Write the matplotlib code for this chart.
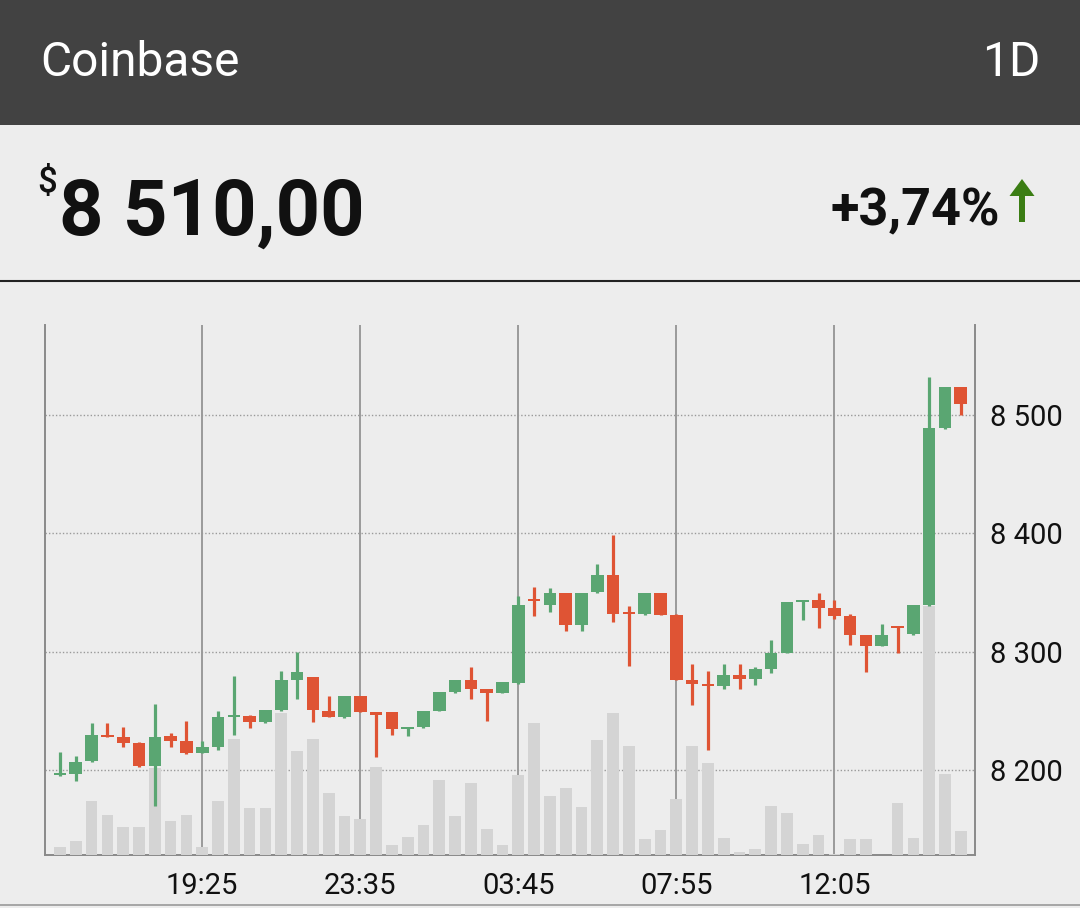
import matplotlib
matplotlib.use('Agg')
from matplotlib import pyplot as plt
from matplotlib.patches import Rectangle, FancyArrow
from matplotlib.lines import Line2D
import numpy as np

plt.rcParams['font.family'] = ['Roboto', 'DejaVu Sans']

# candles, 25 min each, oldest first
opens = [8196, 8197, 8208, 8230, 8228, 8223, 8204, 8229, 8225, 8215,
         8220, 8245, 8246, 8241, 8251, 8276, 8279, 8250, 8245, 8263,
         8249, 8249, 8235, 8237, 8250, 8266, 8276, 8269, 8265, 8274,
         8345, 8340, 8350, 8323, 8351, 8365, 8333, 8332, 8350, 8331,
         8276, 8273, 8271, 8281, 8277, 8286, 8299, 8342, 8344, 8337,
         8330, 8314, 8305, 8322, 8315, 8340, 8489, 8524]
highs = [8216, 8212, 8240, 8240, 8237, 8224, 8256, 8232, 8242, 8225,
         8250, 8280, 8247, 8251, 8284, 8300, 8279, 8263, 8263, 8263,
         8249, 8249, 8237, 8250, 8266, 8276, 8287, 8269, 8275, 8347,
         8355, 8354, 8350, 8350, 8374, 8399, 8339, 8350, 8350, 8332,
         8290, 8284, 8290, 8290, 8287, 8310, 8342, 8344, 8350, 8344,
         8332, 8314, 8324, 8322, 8340, 8532, 8524, 8524]
lows = [8195, 8191, 8207, 8228, 8220, 8203, 8170, 8220, 8214, 8215,
        8217, 8230, 8236, 8240, 8250, 8260, 8241, 8245, 8244, 8249,
        8211, 8230, 8229, 8236, 8250, 8265, 8260, 8242, 8265, 8273,
        8330, 8334, 8318, 8318, 8350, 8325, 8288, 8331, 8331, 8276,
        8255, 8217, 8269, 8269, 8272, 8282, 8299, 8327, 8320, 8328,
        8306, 8283, 8305, 8299, 8314, 8339, 8488, 8500]
closes = [8197, 8207, 8230, 8228, 8223, 8204, 8228, 8225, 8215, 8220,
          8245, 8246, 8241, 8251, 8276, 8283, 8251, 8245, 8263, 8249,
          8247, 8235, 8237, 8250, 8266, 8276, 8269, 8265, 8275, 8340,
          8343, 8350, 8323, 8350, 8365, 8332, 8332, 8350, 8331, 8276,
          8273, 8271, 8281, 8277, 8286, 8299, 8342, 8344, 8337, 8330,
          8314, 8305, 8314, 8320, 8340, 8489, 8524, 8509]
volumes = [8, 14, 54, 40, 28, 28, 87, 34, 40, 8,
           54, 116, 47, 47, 142, 104, 116, 62, 39, 36,
           88, 10, 18, 30, 75, 39, 72, 26, 10, 80,
           132, 59, 67, 48, 115, 142, 109, 16, 25, 56,
           109, 92, 17, 3, 6, 49, 42, 11, 20, 1,
           16, 16, 0, 52, 17, 249, 81, 24]

time_ticks = [9, 19, 29, 39, 49]
time_labels = ['19:25', '23:35', '03:45', '07:55', '12:05']
price_ticks = [8200, 8300, 8400, 8500]

exchange = 'Coinbase'
period = '1D'
last_price = '8 510,00'
change = '+3,74%'

BG = '#ededed'
GREEN = '#5aa672'
RED = '#df5434'
VOL = '#d4d4d4'
GRID = '#9a9a9a'

W, H = 1080, 908
fig = plt.figure(figsize=(W / 100, H / 100), dpi=100, facecolor=BG)

# header bar
fig.patches.append(Rectangle((0, 1 - 125 / H), 1, 125 / H, transform=fig.transFigure,
                             facecolor='#424242', edgecolor='none'))
fig.text(40 / W, 1 - 76 / H, exchange, color='white', fontsize=34.5, va='baseline', ha='left')
fig.text(1040 / W, 1 - 76 / H, period, color='white', fontsize=34.5, va='baseline', ha='right')

# price line
fig.text(37 / W, 1 - 166 / H, '$', color='#111111', fontsize=25, fontweight='medium', va='top', ha='left')
fig.text(59 / W, 1 - 235 / H, last_price, color='#111111', fontsize=56, fontweight='bold',
         va='baseline', ha='left')
fig.text(1000 / W, 1 - 225 / H, change, color='#111111', fontsize=37.5, fontweight='bold',
         va='baseline', ha='right')
fig.patches.append(FancyArrow(10.22, (H - 222) / 100, 0, 0.43, width=0.06, head_width=0.25,
                              head_length=0.17, length_includes_head=True,
                              transform=fig.dpi_scale_trans, facecolor='#3b7d14', edgecolor='none'))

# separator lines
fig.add_artist(Line2D([0, 1], [1 - 281 / H] * 2, transform=fig.transFigure, color='#222222', lw=1.5))
fig.add_artist(Line2D([0, 1], [1 - 905 / H] * 2, transform=fig.transFigure, color='#999999', lw=1.2))

rect = [45 / W, 1 - 855 / H, (975 - 45) / W, (855 - 325) / H]
x = np.arange(len(opens))
xlim = (-0.95, 57.9)
ylim = (8128.7, 8575.9)

# background axes: grid, frame, labels
ax = fig.add_axes(rect)
ax.set_facecolor(BG)
ax.set_xlim(*xlim)
ax.set_ylim(*ylim)
ax.set_xticks(time_ticks)
ax.set_xticklabels(time_labels)
ax.set_yticks(price_ticks)
ax.set_yticklabels([f'{p // 1000} {p % 1000:03d}' for p in price_ticks])
ax.yaxis.tick_right()
ax.tick_params(axis='both', length=0, labelsize=21, colors='#111111')
ax.tick_params(axis='y', pad=11)
ax.tick_params(axis='x', pad=12)
ax.grid(axis='x', color=GRID, lw=1.4, ls='-')
ax.grid(axis='y', color=GRID, lw=1.0, ls=(0, (1, 1.5)))
ax.spines['top'].set_visible(False)
for s in ['left', 'bottom', 'right']:
    ax.spines[s].set_color('#8a8a8a')
    ax.spines[s].set_linewidth(1.4)

# volume axes
ax_vol = fig.add_axes(rect, sharex=ax)
ax_vol.patch.set_visible(False)
ax_vol.axis('off')
ax_vol.set_ylim(0, 530)
ax_vol.bar(x, volumes, width=0.74, color=VOL, zorder=1)
ax_vol.set_xlim(*xlim)

# candle axes
ax_c = fig.add_axes(rect, sharex=ax)
ax_c.patch.set_visible(False)
ax_c.axis('off')
ax_c.set_ylim(*ylim)
ax_c.set_xlim(*xlim)

o = np.array(opens, dtype=float)
c = np.array(closes, dtype=float)
colors = [GREEN if cc >= oo else RED for oo, cc in zip(o, c)]
ax_c.vlines(x, lows, highs, colors=colors, lw=2.3)
body_low = np.minimum(o, c)
body_h = np.maximum(np.abs(c - o), 1.8)
ax_c.bar(x, body_h, bottom=body_low, width=0.8, color=colors, edgecolor='none')

fig.savefig('out.png', dpi=100, facecolor=BG)
